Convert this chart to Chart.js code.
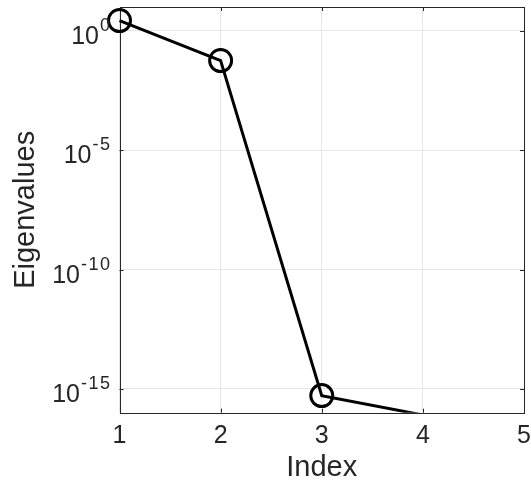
<!DOCTYPE html>
<html>
<head>
<meta charset="utf-8">
<script src="https://cdn.jsdelivr.net/npm/chart.js@4/dist/chart.umd.min.js"></script>
<style>
  html, body { margin: 0; padding: 0; background: #ffffff; }
  canvas { display: block; }
</style>
</head>
<body>
<canvas id="eig" width="531" height="486"></canvas>
<script>
const indices = [1, 2, 3, 4]
const eigenvalues = [2.7, 0.057, 5.2e-16, 8e-17]
const xTickValues = [1, 2, 3, 4, 5]
const yTickValues = [1e-15, 1e-10, 1e-5, 1]
const xTitle = 'Index'
const yTitle = 'Eigenvalues'

const axisColor = '#262626'
const fontFamily = '"Liberation Sans", Arial, Helvetica, sans-serif'

// box, inward tick marks and the MATLAB-like labels
const matlabAxes = {
    id: 'matlabAxes',
    beforeDatasetsDraw(chart) {
        const ctx = chart.ctx
        const a = chart.chartArea
        const xs = chart.scales.x
        const ys = chart.scales.y
        ctx.save()
        ctx.strokeStyle = axisColor
        ctx.lineWidth = 1
        ctx.strokeRect(Math.round(a.left) + 0.5, Math.round(a.top) + 0.5,
            Math.round(a.right) - Math.round(a.left), Math.round(a.bottom) - Math.round(a.top))
        ctx.beginPath()
        xTickValues.forEach(v => {
            const px = Math.round(xs.getPixelForValue(v)) + 0.5
            ctx.moveTo(px, a.bottom); ctx.lineTo(px, a.bottom - 4)
            ctx.moveTo(px, a.top); ctx.lineTo(px, a.top + 4)
        })
        yTickValues.forEach(v => {
            const py = Math.round(ys.getPixelForValue(v)) + 0.5
            ctx.moveTo(a.left, py); ctx.lineTo(a.left + 4, py)
            ctx.moveTo(a.right, py); ctx.lineTo(a.right - 4, py)
        })
        ctx.stroke()
        ctx.restore()
    },
    afterDraw(chart) {
        const ctx = chart.ctx
        const a = chart.chartArea
        const xs = chart.scales.x
        const ys = chart.scales.y
        ctx.save()
        ctx.fillStyle = axisColor

        // x tick labels
        ctx.font = '25px ' + fontFamily
        ctx.textAlign = 'center'
        ctx.textBaseline = 'alphabetic'
        xTickValues.forEach(v => {
            ctx.fillText(String(v), xs.getPixelForValue(v), a.bottom + 30.5)
        })

        // y tick labels 10^n
        yTickValues.forEach(v => {
            const py = ys.getPixelForValue(v)
            const exp = String(Math.round(Math.log10(v)))
            ctx.textAlign = 'right'
            ctx.font = '18px ' + fontFamily
            ctx.letterSpacing = '1.5px'
            const expRight = a.left - 8
            const expW = ctx.measureText(exp).width
            ctx.fillText(exp, expRight, py)
            ctx.letterSpacing = '0px'
            ctx.font = '25px ' + fontFamily
            ctx.fillText('10', expRight - expW - 1, py + 13)
        })

        // axis titles
        ctx.font = '29px ' + fontFamily
        ctx.textAlign = 'center'
        ctx.fillText(xTitle, (a.left + a.right) / 2, a.bottom + 63.5)
        ctx.translate(33.5, (a.top + a.bottom) / 2)
        ctx.rotate(-Math.PI / 2)
        ctx.fillText(yTitle, 0, 0)
        ctx.restore()
    }
}

const data = {
    datasets: [{
        label: 'eig',
        data: indices.map((x, i) => ({ x: x, y: eigenvalues[i] })),
        borderColor: '#000000',
        borderWidth: 3,
        pointRadius: [11, 11, 11, 0],
        pointBorderWidth: 3,
        pointBorderColor: '#000000',
        pointBackgroundColor: 'rgba(0,0,0,0)',
        pointHoverRadius: 0,
        tension: 0,
        clip: { left: false, top: false, right: false, bottom: 0 }
    }]
}

const config = {
    type: 'line',
    data: data,
    options: {
        responsive: false,
        animation: false,
        devicePixelRatio: 1,
        layout: { autoPadding: false, padding: { left: 0, right: 7, top: 7, bottom: 0 } },
        plugins: {
            legend: { display: false },
            tooltip: { enabled: false }
        },
        scales: {
            x: {
                type: 'linear',
                min: 1,
                max: 5,
                afterBuildTicks: scale => {
                    scale.ticks = xTickValues.map(v => ({ value: v }))
                },
                afterFit: scale => { scale.height = 73.3 },
                ticks: { display: false },
                grid: { color: '#e6e6e6', drawTicks: false },
                border: { display: false }
            },
            y: {
                type: 'logarithmic',
                min: 1e-16,
                max: 10,
                afterBuildTicks: scale => {
                    scale.ticks = yTickValues.map(v => ({ value: v }))
                },
                afterFit: scale => { scale.width = 119.5 },
                ticks: { display: false },
                grid: { color: '#e6e6e6', drawTicks: false },
                border: { display: false }
            }
        }
    },
    plugins: [matlabAxes]
}

const eigChart = new Chart(document.getElementById('eig'), config)
</script>
</body>
</html>
